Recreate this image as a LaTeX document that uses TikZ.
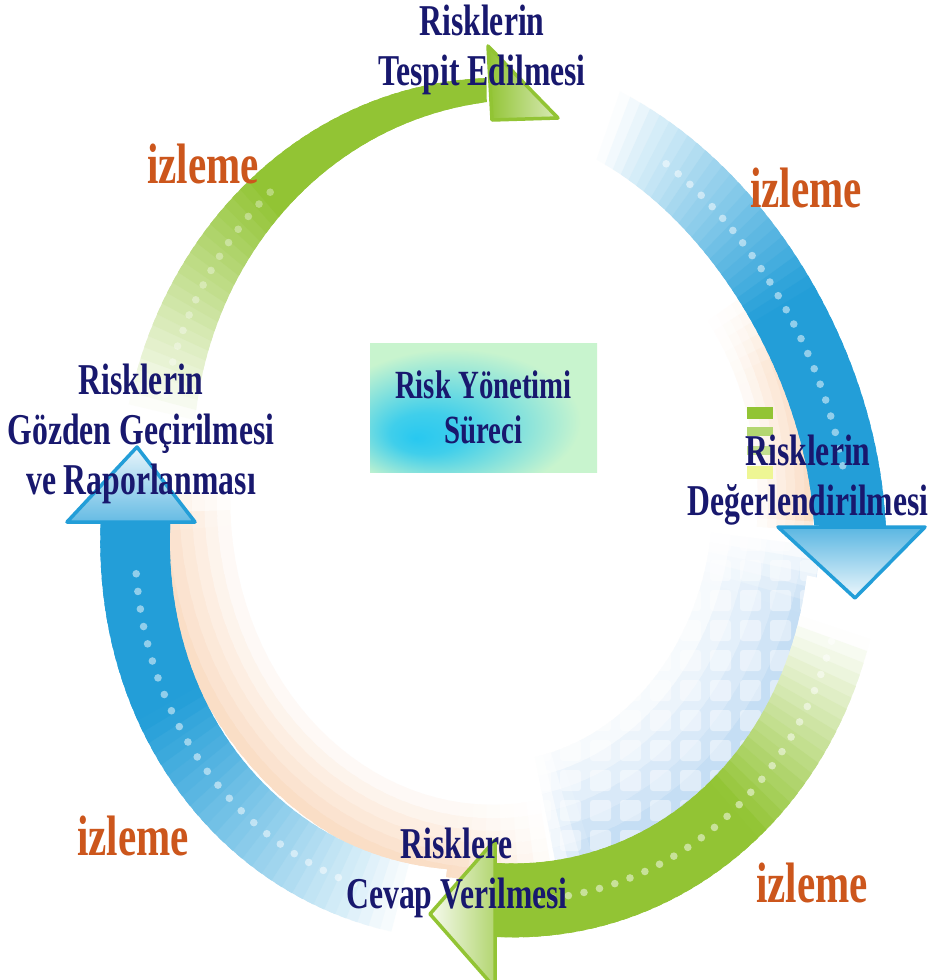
\documentclass[tikz,border=0pt]{standalone}
\usepackage{fontspec}
\newfontfamily\labfont[FakeStretch=0.72]{Liberation Serif}
\definecolor{blueA}{RGB}{35,158,216}
\definecolor{greenA}{RGB}{146,196,52}
\definecolor{peachC}{RGB}{247,200,160}
\definecolor{paleB}{RGB}{150,195,235}
\definecolor{navyT}{RGB}{24,24,110}
\definecolor{orangeT}{RGB}{204,86,28}
\definecolor{boxG}{RGB}{200,244,206}
\definecolor{boxC}{RGB}{40,200,240}
\pgfdeclareradialshading{boxglow}{\pgfpoint{-15bp}{-12bp}}{color(0bp)=(boxC); color(8bp)=(boxC!85!boxG); color(28bp)=(boxG); color(50bp)=(boxG)}
\def\CX{493}\def\CY{500}\def\RX{358}\def\RY{400}
% #1 colour, #2 start angle, #3 end angle, #4 half width expr(\f), #5 offset expr(\f), #6 colour percent expr(\f), #7 segments
\newcommand\arrowshaft[7]{%
\foreach \i in {1,...,#7}{%
  \pgfmathsetmacro\f{(\i-1)/#7}%
  \pgfmathsetmacro\ta{#2+(#3-#2)*\f}%
  \pgfmathsetmacro\wa{#4}%
  \pgfmathsetmacro\oa{#5}%
  \pgfmathtruncatemacro\pc{max(0,min(100,#6))}%
  \pgfmathsetmacro\f{min(1,(\i+0.6)/#7)}%
  \pgfmathsetmacro\tb{#2+(#3-#2)*\f}%
  \pgfmathsetmacro\wb{#4}%
  \pgfmathsetmacro\ob{#5}%
  \fill[#1!\pc!white] ({\CX+(\RX+(\oa)+(\wa))*cos(\ta)},{\CY+(\RY+(\oa)+(\wa))*sin(\ta)}) -- ({\CX+(\RX+(\ob)+(\wb))*cos(\tb)},{\CY+(\RY+(\ob)+(\wb))*sin(\tb)}) -- ({\CX+(\RX+(\ob)-(\wb))*cos(\tb)},{\CY+(\RY+(\ob)-(\wb))*sin(\tb)}) -- ({\CX+(\RX+(\oa)-(\wa))*cos(\ta)},{\CY+(\RY+(\oa)-(\wa))*sin(\ta)}) -- cycle;
}}
% #1 colour, #2 start, #3 end, #4 edge offset, #5 width, #6 max percent, #7 along profile expr(\f), #8 segments
\newcommand\glowband[8]{%
\foreach \k in {0,...,5}{%
 \foreach \i in {1,...,#8}{%
  \pgfmathsetmacro\f{(\i-1)/#8}%
  \pgfmathsetmacro\ta{#2+(#3-#2)*\f}%
  \pgfmathtruncatemacro\pc{max(0,min(100,#6*(#7)*(1-\k/6)))}%
  \pgfmathsetmacro\f{min(1,(\i+0.6)/#8)}%
  \pgfmathsetmacro\tb{#2+(#3-#2)*\f}%
  \pgfmathsetmacro\ro{#4-#5*\k/6+0.8}%
  \pgfmathsetmacro\ri{#4-#5*(\k+1)/6}%
  \fill[#1!\pc!white] ({\CX+(\RX+(\ro))*cos(\ta)},{\CY+(\RY+(\ro))*sin(\ta)}) -- ({\CX+(\RX+(\ro))*cos(\tb)},{\CY+(\RY+(\ro))*sin(\tb)}) -- ({\CX+(\RX+(\ri))*cos(\tb)},{\CY+(\RY+(\ri))*sin(\tb)}) -- ({\CX+(\RX+(\ri))*cos(\ta)},{\CY+(\RY+(\ri))*sin(\ta)}) -- cycle;
 }}}
\tikzset{
  lab/.style={font=\labfont\bfseries\fontsize{44}{50}\selectfont, text=navyT, align=center, inner sep=0pt},
  iz/.style={font=\labfont\bfseries\fontsize{57}{60}\selectfont, text=orangeT, inner sep=0pt, anchor=base},
  dot/.style={white, opacity=0.5},
  bluehead/.style={draw=blueA, line width=3.5pt, line join=round},
  greenhead/.style={draw=greenA, line width=3.5pt, line join=round}
}
\begin{document}
\begin{tikzpicture}[x=1pt,y=-1pt]
\useasboundingbox (0,0) rectangle (932,980);
\fill[white] (0,0) rectangle (932,980);
\begin{scope}
\clip (0,0) rectangle (932,980);
% soft inner bands
\glowband{peachC}{77}{181}{-20}{75}{60}{min(1,\f/0.17,(1-\f)/0.06)}{36}
\glowband{peachC}{322}{368}{-38}{55}{60}{min(1,\f/0.3,(1-\f)/0.15)}{20}
\glowband{paleB}{5}{79}{-28}{110}{55}{min(1,\f/0.15,(1-\f)/0.1)}{34}
% tiles
\begin{scope}
\clip plot[domain=5:79, samples=30, variable=\t] ({\CX+(\RX-28)*cos(\t)},{\CY+(\RY-28)*sin(\t)}) -- plot[domain=79:5, samples=30, variable=\t] ({\CX+(\RX-140)*cos(\t)},{\CY+(\RY-140)*sin(\t)}) -- cycle;
\foreach \gx in {0,...,10}{\foreach \gy in {0,...,12}{
  \fill[white, opacity=0.45, rounded corners=3pt] (530+30*\gx,500+30*\gy) rectangle ++(21,21);
}}
\end{scope}
% small green bars
\fill[greenA] (747,407) rectangle (773,419);
\fill[greenA!70!white] (747,427) rectangle (773,436);
\fill[greenA!55!white] (747,446) rectangle (773,455);
\fill[greenA!35!yellow!45!white] (747,466) rectangle (773,479);
% shafts
\arrowshaft{blueA}{284}{364}{36}{-20*sin(\f*180)}{-10+200*\f}{48}
\arrowshaft{greenA}{12}{89.5}{37}{10*sin(\f*180)}{-20+260*\f}{48}
\arrowshaft{blueA}{98}{177}{35}{8+14*sin(\f*180)-8*\f}{-10+170*\f}{48}
\arrowshaft{greenA}{190}{269}{35-23*\f}{-19+29*\f}{-5+210*\f}{48}
% dots
\foreach \t in {300,302.5,...,357}{
  \pgfmathsetmacro\o{-20*sin((\t-284)/80*180)}
  \fill[dot] ({\CX+(\RX+(\o))*cos(\t)},{\CY+(\RY+(\o))*sin(\t)}) circle[radius=3.8];}
\foreach \t in {18,20.5,...,84}{
  \pgfmathsetmacro\o{10*sin((\t-12)/77.5*180)}
  \fill[dot] ({\CX+(\RX+(\o))*cos(\t)},{\CY+(\RY+(\o))*sin(\t)}) circle[radius=3.8];}
\foreach \t in {112,114.5,...,170}{
  \pgfmathsetmacro\o{8+14*sin((\t-98)/79*180)-8*(\t-98)/79}
  \fill[dot] ({\CX+(\RX+(\o))*cos(\t)},{\CY+(\RY+(\o))*sin(\t)}) circle[radius=3.8];}
\foreach \t in {196,198.5,...,232}{
  \pgfmathsetmacro\o{-19+29*(\t-190)/79}
  \fill[white, opacity=0.35] ({\CX+(\RX+(\o))*cos(\t)},{\CY+(\RY+(\o))*sin(\t)}) circle[radius=3.8];}
% heads
\coordinate (hA1) at (488,46); \coordinate (hA2) at (558,118); \coordinate (hA3) at (492,120);
\path[greenhead, left color=greenA, right color=greenA!35!white] (hA1) -- (hA2) -- (hA3) -- cycle;
\coordinate (hB1) at (778,527); \coordinate (hB2) at (925,527); \coordinate (hB3) at (855,598);
\path[bluehead, top color=blueA!75!white, bottom color=blueA!8!white] (hB1) -- (hB2) -- (hB3) -- cycle;
\coordinate (hC1) at (495,840); \coordinate (hC2) at (495,988); \coordinate (hC3) at (430,914);
\path[greenhead, left color=greenA!8!white, right color=greenA!70!white] (hC1) -- (hC2) -- (hC3) -- cycle;
\coordinate (hD1) at (67,522); \coordinate (hD2) at (195,522); \coordinate (hD3) at (137,447);
\path[bluehead, top color=blueA!10!white, bottom color=blueA!70!white] (hD1) -- (hD2) -- (hD3) -- cycle;
\end{scope}
% centre box
\node[shade, shading=boxglow, minimum width=227pt, minimum height=129pt, inner sep=0pt, align=center,
  font=\labfont\bfseries\fontsize{40}{45}\selectfont, text=navyT] (core) at (483.5,407.5) {Risk Yönetimi\\Süreci};
% labels
\node[lab] (ltop) at (482,50) {Risklerin\\Tespit Edilmesi};
\node[lab] (lright) at (808,480) {Risklerin\\Değerlendirilmesi};
\node[lab] (lbottom) at (457,873) {Risklere\\Cevap Verilmesi};
\node[lab] (lleft) at (141,434) {Risklerin\\Gözden Geçirilmesi\\ve Raporlanması};
\node[iz] (iz1) at (203,183) {izleme};
\node[iz] (iz2) at (806,207) {izleme};
\node[iz] (iz3) at (133,855) {izleme};
\node[iz] (iz4) at (812,902) {izleme};
\end{tikzpicture}
\end{document}
